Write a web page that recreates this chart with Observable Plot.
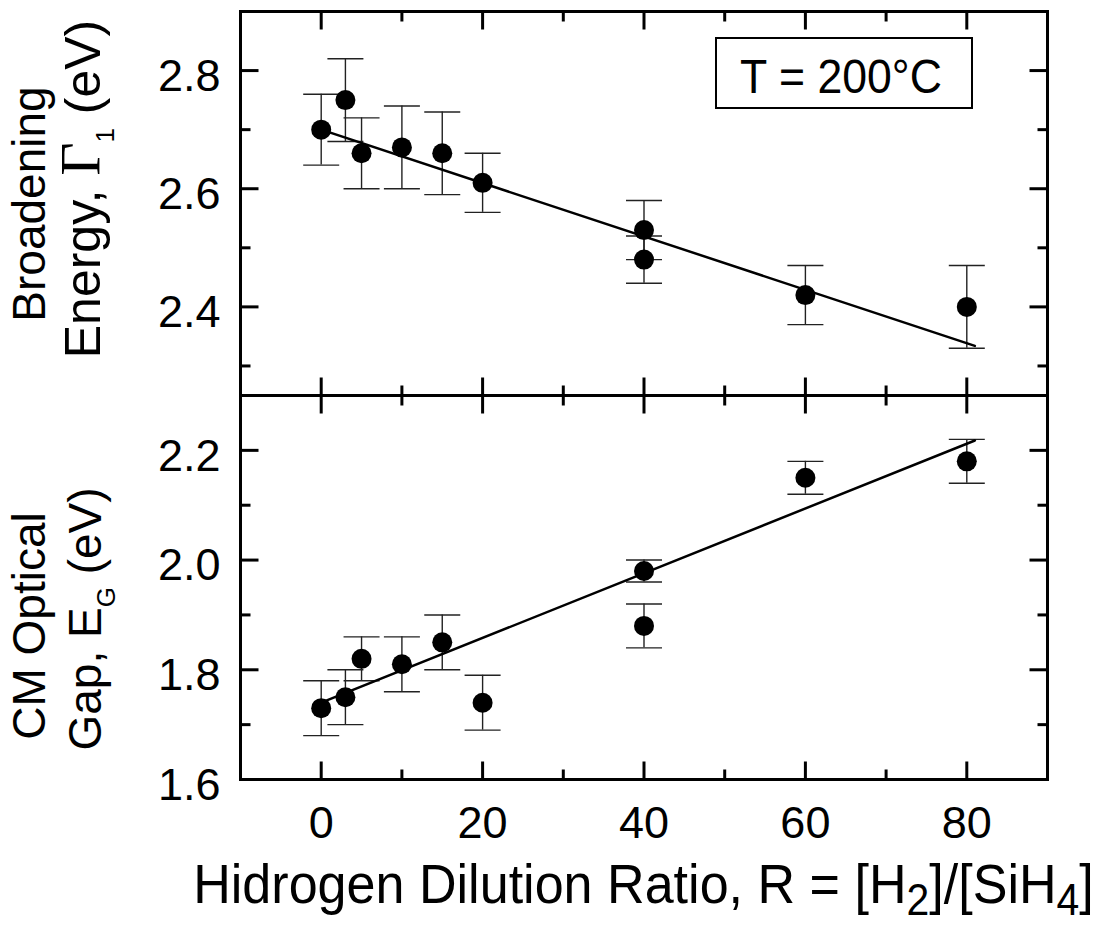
<!DOCTYPE html>
<html><head><meta charset="utf-8">
<script src="https://cdn.jsdelivr.net/npm/d3@7"></script>
<script src="https://cdn.jsdelivr.net/npm/@observablehq/plot@0.6"></script>
<style>
body{margin:0;background:#fff;}
#wrap{position:relative;width:1101px;height:925px;overflow:hidden;}
#wrap svg{position:absolute;left:0;top:0;}
</style></head><body><div id="wrap"></div>
<script>
// ---- data ----
const ratio    = [0, 3, 5, 10, 15, 20, 40, 40, 60, 80];
const gamma    = [2.70, 2.75, 2.66, 2.67, 2.66, 2.61, 2.53, 2.48, 2.42, 2.40];
const gammaLo  = [2.64, 2.68, 2.60, 2.60, 2.59, 2.56, 2.48, 2.44, 2.37, 2.33];
const gammaHi  = [2.76, 2.82, 2.72, 2.74, 2.73, 2.66, 2.58, 2.52, 2.47, 2.47];
const gap      = [1.73, 1.75, 1.82, 1.81, 1.85, 1.74, 1.98, 1.88, 2.15, 2.18];
const gapLo    = [1.68, 1.70, 1.78, 1.76, 1.80, 1.69, 1.96, 1.84, 2.12, 2.14];
const gapHi    = [1.78, 1.80, 1.86, 1.86, 1.90, 1.79, 2.00, 1.92, 2.18, 2.22];
const fitRatio = [0, 81];
const fitGamma = [2.70, 2.334];
const fitGap   = [1.74, 2.218];
const xMajor = [0, 20, 40, 60, 80];
const xMinor = [10, 30, 50, 70];
const topMajor = [2.4, 2.6, 2.8];
const topMinor = [2.3, 2.5, 2.7];
const botMajor = [1.6, 1.8, 2.0, 2.2];
const botMinor = [1.7, 1.9, 2.1];
const legendText = "T = 200°C";
const xTitle = ["Hidrogen Dilution Ratio, R = [H", "2", "]/[SiH", "4", "]"];

// ---- layout ----
const W = 1101, H = 925;
const FONT = "'Liberation Sans', Arial, Helvetica, sans-serif";
const SERIF = "'Liberation Serif', 'Times New Roman', serif";

const rows = (y, lo, hi) => ratio.map((r, i) => ({r, y: y[i], lo: lo[i], hi: hi[i]}));
const fitRows = (ys) => fitRatio.map((r, i) => ({r, y: ys[i]}));
const cap = {draw(ctx) { ctx.moveTo(-18, 0); ctx.lineTo(18, 0); }};
// inward tick symbols (dx, dy direction, pixel length)
const tickSym = (dx, dy, l) => ({draw(ctx) { ctx.moveTo(0, 0); ctx.lineTo(dx * l, dy * l); }});

function panel({data, fit, yDomain, yMajor, yMinor, marginTop, marginBottom, xLabels}) {
  const tk = {stroke: "black", strokeWidth: 3, fill: "none"};
  const xt = (vals, anchor, dy, l) => Plot.dot(vals, {x: d => d, frameAnchor: anchor, symbol: tickSym(0, dy, l), ...tk});
  const yt = (vals, anchor, dx, l) => Plot.dot(vals, {y: d => d, frameAnchor: anchor, symbol: tickSym(dx, 0, l), ...tk});
  const marks = [
    Plot.ruleX(data, {x: "r", y1: "lo", y2: "hi", stroke: "#222", strokeWidth: 1.4}),
    Plot.dot(data, {x: "r", y: "lo", symbol: cap, stroke: "#222", strokeWidth: 1.4, fill: "none"}),
    Plot.dot(data, {x: "r", y: "hi", symbol: cap, stroke: "#222", strokeWidth: 1.4, fill: "none"}),
    Plot.line(fit, {x: "r", y: "y", stroke: "black", strokeWidth: 2.5}),
    Plot.dot(data, {x: "r", y: "y", r: 10, fill: "black", stroke: "none"}),
    xt(xMajor, "bottom", -1, 18), xt(xMinor, "bottom", -1, 10),
    xt(xMajor, "top", 1, 18), xt(xMinor, "top", 1, 10),
    yt(yMajor, "left", 1, 18), yt(yMinor, "left", 1, 10),
    yt(yMajor, "right", -1, 18), yt(yMinor, "right", -1, 10),
    Plot.axisY(yMajor, {anchor: "left", tickSize: 0, tickPadding: 20, tickFormat: d => d.toFixed(1),
      fontSize: 45, dy: 6, label: null, fill: "black"}),
    Plot.frame({stroke: "black", strokeWidth: 3})
  ];
  if (xLabels) marks.push(Plot.axisX(xMajor, {anchor: "bottom", tickSize: 0, tickPadding: 27,
      fontSize: 45, label: null, fill: "black"}));
  else marks.push(Plot.axisX({ticks: [], label: null, tickSize: 0}));
  return Plot.plot({
    width: W, height: H,
    marginLeft: 240, marginRight: 54, marginTop, marginBottom,
    x: {domain: [-10, 90]},
    y: {domain: yDomain},
    style: {background: "transparent", overflow: "visible", fontFamily: FONT, color: "black"},
    marks
  });
}

const topChart = panel({data: rows(gamma, gammaLo, gammaHi), fit: fitRows(fitGamma), yDomain: [2.25, 2.9],
  yMajor: topMajor, yMinor: topMinor, marginTop: 11, marginBottom: H - 395, xLabels: false});
const botChart = panel({data: rows(gap, gapLo, gapHi), fit: fitRows(fitGap), yDomain: [1.6, 2.3],
  yMajor: botMajor, yMinor: botMinor, marginTop: 395, marginBottom: H - 779, xLabels: true});

const wrap = document.getElementById("wrap");
wrap.appendChild(topChart);
wrap.appendChild(botChart);

// ---- annotation text ----
const st = d3.select(topChart), sb = d3.select(botChart);
function title(svg, x, y, size, parts) {
  const t = svg.append("text").attr("transform", `translate(${x},${y}) rotate(-90)`)
    .attr("text-anchor", "middle").attr("font-family", FONT).attr("font-size", size).attr("fill", "black");
  parts.forEach(p => {
    const s = t.append("tspan").text(p.t);
    if (p.serif) s.attr("font-family", SERIF).attr("font-size", size * 1.15);
    if (p.sub) s.attr("font-size", 26).attr("dy", 14);
    if (p.up) s.attr("dy", -14);
  });
}
title(st, 45, 204, 46, [{t: "Broadening"}]);
title(st, 100, 189, 50, [{t: "Energy, "}, {t: "Γ", serif: true}, {t: "1", sub: true}, {t: " (eV)", up: true}]);
title(sb, 45, 626, 46, [{t: "CM Optical"}]);
title(sb, 101, 619, 46, [{t: "Gap, E"}, {t: "G", sub: true}, {t: " (eV)", up: true}]);

const xl = sb.append("text").attr("transform", "translate(643.5,903) scale(0.93,1)")
  .attr("text-anchor", "middle").attr("font-family", FONT).attr("font-size", 56).attr("fill", "black");
xTitle.forEach((t, i) => {
  const s = xl.append("tspan").text(t);
  if (i % 2 === 1) s.attr("font-size", 44).attr("dy", 12);
  else if (i > 0) s.attr("dy", -12);
});

st.append("rect").attr("x", 716).attr("y", 38).attr("width", 256).attr("height", 70)
  .attr("fill", "none").attr("stroke", "black").attr("stroke-width", 2);
st.append("text").attr("transform", "translate(841,93) scale(0.93,1)").attr("text-anchor", "middle")
  .attr("font-family", FONT).attr("font-size", 48).attr("fill", "black").text(legendText);
</script></body></html>
